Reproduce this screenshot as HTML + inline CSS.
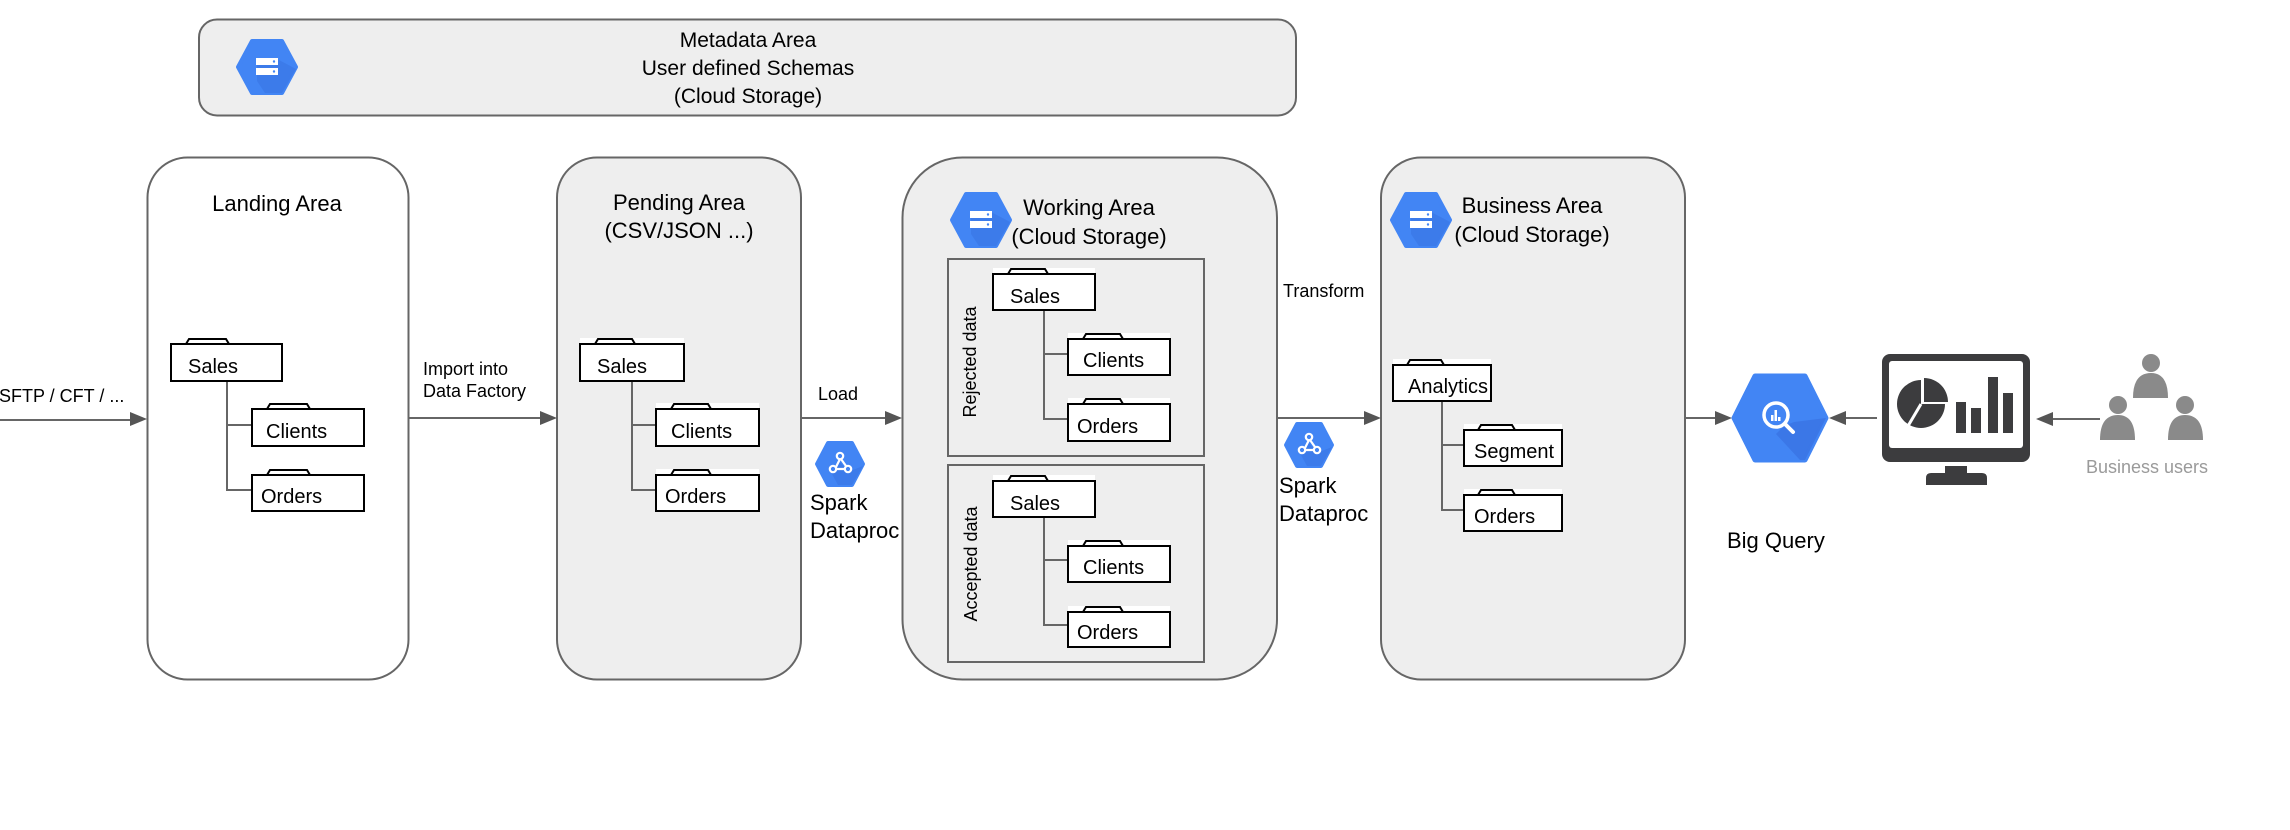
<!DOCTYPE html>
<html><head><meta charset="utf-8"><style>
html,body{margin:0;padding:0;background:#fff;}
svg{display:block;}
text{font-family:"Liberation Sans",Arial,sans-serif;fill:#000;}
</style></head><body>
<svg width="2290" height="830" viewBox="0 0 2290 830" xmlns="http://www.w3.org/2000/svg">
<defs>
  <g id="hexS">
    <polygon points="-29,0 -15,-26 15,-26 29,0 15,26 -15,26" fill="#4285f4" stroke="#4285f4" stroke-width="4" stroke-linejoin="round"/>
    <polygon points="-10,-8 10,-8 29,2 15,26 -2,26 -10,14" fill="#3b78e7" opacity="0.8"/>
    <rect x="-11" y="-9" width="22" height="7" fill="#fff"/>
    <rect x="-11" y="1" width="22" height="7" fill="#fff"/>
    <circle cx="7" cy="-5.5" r="1.2" fill="#4285f4"/>
    <circle cx="7" cy="4.5" r="1.2" fill="#4285f4"/>
  </g>
  <g id="hexP">
    <polygon points="-23,0 -12,-21 12,-21 23,0 12,21 -12,21" fill="#4285f4" stroke="#4285f4" stroke-width="4" stroke-linejoin="round"/>
    <polygon points="0,-2 8,8 23,2 12,21 -2,21 -8,10" fill="#3b78e7" opacity="0.8"/>
    <g fill="none" stroke="#fff" stroke-width="2.2">
      <circle cx="0" cy="-8" r="3.2"/><circle cx="-7" cy="5" r="3.2"/><circle cx="8" cy="5" r="3.2"/>
      <path d="M0,-5 L-4,3 M1,-5 L6,2 M-4,5 L5,5"/>
    </g>
  </g>
</defs>

<!-- Metadata -->
<rect x="199" y="19.5" width="1097" height="96" rx="18" fill="#eeeeee" stroke="#666" stroke-width="2"/>
<use href="#hexS" x="267" y="67"/>
<text x="748" y="47" font-size="21" text-anchor="middle">Metadata Area</text>
<text x="748" y="75" font-size="21" text-anchor="middle">User defined Schemas</text>
<text x="748" y="103" font-size="21" text-anchor="middle">(Cloud Storage)</text>

<!-- Boxes -->
<rect x="147.5" y="157.5" width="261" height="522" rx="40" fill="#fff" stroke="#666" stroke-width="2"/>
<rect x="557" y="157.5" width="244" height="522" rx="40" fill="#eeeeee" stroke="#666" stroke-width="2"/>
<rect x="902.5" y="157.5" width="374.5" height="522" rx="60" fill="#eeeeee" stroke="#666" stroke-width="2"/>
<rect x="1381" y="157.5" width="304" height="522" rx="40" fill="#eeeeee" stroke="#666" stroke-width="2"/>

<!-- Titles -->
<text x="277" y="211" font-size="22" text-anchor="middle">Landing Area</text>
<text x="679" y="210" font-size="22" text-anchor="middle">Pending Area</text>
<text x="679" y="238" font-size="22" text-anchor="middle">(CSV/JSON ...)</text>
<use href="#hexS" x="981" y="220"/>
<text x="1089" y="215" font-size="22" text-anchor="middle">Working Area</text>
<text x="1089" y="244" font-size="22" text-anchor="middle">(Cloud Storage)</text>
<use href="#hexS" x="1421" y="220"/>
<text x="1532" y="213" font-size="22" text-anchor="middle">Business Area</text>
<text x="1532" y="242" font-size="22" text-anchor="middle">(Cloud Storage)</text>

<!-- Working sub boxes -->
<rect x="948" y="259" width="256" height="197" fill="#eeeeee" stroke="#666" stroke-width="2"/>
<rect x="948" y="465" width="256" height="197" fill="#eeeeee" stroke="#666" stroke-width="2"/>
<text transform="translate(976,362) rotate(-90)" font-size="18" text-anchor="middle">Rejected data</text>
<text transform="translate(977,564) rotate(-90)" font-size="18" text-anchor="middle">Accepted data</text>

<!-- Tree lines -->
<g stroke="#666" stroke-width="2" fill="none">
  <path d="M227,381 V490 H252 M227,425 H252"/>
  <path d="M632,381 V490 H656 M632,425 H656"/>
  <path d="M1044,310 V419 H1068 M1044,354 H1068"/>
  <path d="M1044,517 V625 H1068 M1044,560 H1068"/>
  <path d="M1442,401 V510 H1464 M1442,445 H1464"/>
</g>

<!-- Folders -->
<g font-size="20">
<g transform="translate(171,344)"><rect x="0" y="-6" width="111" height="6" fill="#fff"/><path d="M15,0 L18,-5 H55 L58,0" fill="#fff" stroke="#000" stroke-width="2"/><rect x="0" y="0" width="111" height="37" fill="#fff" stroke="#000" stroke-width="2"/><text x="17" y="29">Sales</text></g>
<g transform="translate(252,409)"><rect x="0" y="-6" width="112" height="6" fill="#fff"/><path d="M15,0 L18,-5 H55 L58,0" fill="#fff" stroke="#000" stroke-width="2"/><rect x="0" y="0" width="112" height="37" fill="#fff" stroke="#000" stroke-width="2"/><text x="14" y="29">Clients</text></g>
<g transform="translate(252,475)"><rect x="0" y="-6" width="112" height="6" fill="#fff"/><path d="M15,0 L18,-5 H55 L58,0" fill="#fff" stroke="#000" stroke-width="2"/><rect x="0" y="0" width="112" height="36" fill="#fff" stroke="#000" stroke-width="2"/><text x="9" y="28">Orders</text></g>

<g transform="translate(580,344)"><rect x="0" y="-6" width="104" height="6" fill="#fff"/><path d="M15,0 L18,-5 H52 L55,0" fill="#fff" stroke="#000" stroke-width="2"/><rect x="0" y="0" width="104" height="37" fill="#fff" stroke="#000" stroke-width="2"/><text x="17" y="29">Sales</text></g>
<g transform="translate(656,409)"><rect x="0" y="-6" width="103" height="6" fill="#fff"/><path d="M15,0 L18,-5 H52 L55,0" fill="#fff" stroke="#000" stroke-width="2"/><rect x="0" y="0" width="103" height="37" fill="#fff" stroke="#000" stroke-width="2"/><text x="15" y="29">Clients</text></g>
<g transform="translate(656,475)"><rect x="0" y="-6" width="103" height="6" fill="#fff"/><path d="M15,0 L18,-5 H52 L55,0" fill="#fff" stroke="#000" stroke-width="2"/><rect x="0" y="0" width="103" height="36" fill="#fff" stroke="#000" stroke-width="2"/><text x="9" y="28">Orders</text></g>

<g transform="translate(993,274)"><rect x="0" y="-6" width="102" height="6" fill="#fff"/><path d="M15,0 L18,-5 H52 L55,0" fill="#fff" stroke="#000" stroke-width="2"/><rect x="0" y="0" width="102" height="36" fill="#fff" stroke="#000" stroke-width="2"/><text x="17" y="29">Sales</text></g>
<g transform="translate(1068,339)"><rect x="0" y="-6" width="102" height="6" fill="#fff"/><path d="M15,0 L18,-5 H52 L55,0" fill="#fff" stroke="#000" stroke-width="2"/><rect x="0" y="0" width="102" height="36" fill="#fff" stroke="#000" stroke-width="2"/><text x="15" y="28">Clients</text></g>
<g transform="translate(1068,404)"><rect x="0" y="-6" width="102" height="6" fill="#fff"/><path d="M15,0 L18,-5 H52 L55,0" fill="#fff" stroke="#000" stroke-width="2"/><rect x="0" y="0" width="102" height="37" fill="#fff" stroke="#000" stroke-width="2"/><text x="9" y="29">Orders</text></g>

<g transform="translate(993,481)"><rect x="0" y="-6" width="102" height="6" fill="#fff"/><path d="M15,0 L18,-5 H52 L55,0" fill="#fff" stroke="#000" stroke-width="2"/><rect x="0" y="0" width="102" height="36" fill="#fff" stroke="#000" stroke-width="2"/><text x="17" y="29">Sales</text></g>
<g transform="translate(1068,546)"><rect x="0" y="-6" width="102" height="6" fill="#fff"/><path d="M15,0 L18,-5 H52 L55,0" fill="#fff" stroke="#000" stroke-width="2"/><rect x="0" y="0" width="102" height="36" fill="#fff" stroke="#000" stroke-width="2"/><text x="15" y="28">Clients</text></g>
<g transform="translate(1068,612)"><rect x="0" y="-6" width="102" height="6" fill="#fff"/><path d="M15,0 L18,-5 H52 L55,0" fill="#fff" stroke="#000" stroke-width="2"/><rect x="0" y="0" width="102" height="35" fill="#fff" stroke="#000" stroke-width="2"/><text x="9" y="27">Orders</text></g>

<g transform="translate(1393,365)"><rect x="0" y="-6" width="98" height="6" fill="#fff"/><path d="M14,0 L17,-5 H48 L51,0" fill="#fff" stroke="#000" stroke-width="2"/><rect x="0" y="0" width="98" height="36" fill="#fff" stroke="#000" stroke-width="2"/><text x="15" y="28">Analytics</text></g>
<g transform="translate(1464,430)"><rect x="0" y="-6" width="98" height="6" fill="#fff"/><path d="M14,0 L17,-5 H48 L51,0" fill="#fff" stroke="#000" stroke-width="2"/><rect x="0" y="0" width="98" height="36" fill="#fff" stroke="#000" stroke-width="2"/><text x="10" y="28">Segment</text></g>
<g transform="translate(1464,495)"><rect x="0" y="-6" width="98" height="6" fill="#fff"/><path d="M14,0 L17,-5 H48 L51,0" fill="#fff" stroke="#000" stroke-width="2"/><rect x="0" y="0" width="98" height="36" fill="#fff" stroke="#000" stroke-width="2"/><text x="10" y="28">Orders</text></g>
</g>

<!-- Arrows -->
<g stroke="#666" stroke-width="2" fill="none">
  <path d="M0,420 H133"/>
  <path d="M409,418 H543"/>
  <path d="M801,418 H888"/>
  <path d="M1277,418 H1367"/>
  <path d="M1685,418 H1718"/>
  <path d="M1877,418 H1843"/>
  <path d="M2100,419 H2050"/>
</g>
<g fill="#555">
  <polygon points="147,419 130,412 130,426"/>
  <polygon points="557,418 540,411 540,425"/>
  <polygon points="902,418 885,411 885,425"/>
  <polygon points="1381,418 1364,411 1364,425"/>
  <polygon points="1732,418 1715,411 1715,425"/>
  <polygon points="1829,418 1846,411 1846,425"/>
  <polygon points="2036,419 2053,412 2053,426"/>
</g>

<!-- Arrow labels -->
<text x="-1" y="402" font-size="18">SFTP / CFT / ...</text>
<text x="423" y="375" font-size="18">Import  into</text>
<text x="423" y="397" font-size="18">Data Factory</text>
<text x="818" y="400" font-size="18">Load</text>
<text x="1283" y="297" font-size="18">Transform</text>

<use href="#hexP" x="840" y="464"/>
<text x="810" y="510" font-size="22">Spark</text>
<text x="810" y="538" font-size="22">Dataproc</text>
<use href="#hexP" x="1309" y="445"/>
<text x="1279" y="493" font-size="22">Spark</text>
<text x="1279" y="521" font-size="22">Dataproc</text>

<!-- Big Query -->
<g transform="translate(1780,418)">
  <polygon points="-46,0 -25,-42 25,-42 46,0 25,42 -25,42" fill="#4285f4" stroke="#4285f4" stroke-width="5" stroke-linejoin="round"/>
  <polygon points="4,8 14,4 46,0 25,42 20,42 -4,16" fill="#3367d6" opacity="0.45"/>
  <circle cx="-4" cy="-3" r="12" fill="#4285f4" stroke="#fff" stroke-width="3.5"/>
  <path d="M5,6 L13,14" stroke="#fff" stroke-width="4" stroke-linecap="round"/>
  <rect x="-9" y="-3" width="2.5" height="6" fill="#fff"/>
  <rect x="-5.5" y="-8" width="2.5" height="11" fill="#fff"/>
  <rect x="-2" y="-1" width="2.5" height="4" fill="#fff"/>
</g>
<text x="1727" y="548" font-size="22">Big Query</text>

<!-- Monitor -->
<rect x="1882" y="354" width="148" height="108" rx="8" fill="#3c3c3e"/>
<rect x="1889" y="361" width="134" height="87" rx="3" fill="#fff"/>
<rect x="1945" y="466" width="22" height="8" fill="#3c3c3e"/>
<path d="M1926,485 V478 Q1926,473 1931,473 H1982 Q1987,473 1987,478 V485 Z" fill="#3c3c3e"/>
<path d="M1921,380 A24,24 0 1 0 1945,404 L1921,404 Z" fill="#3c3c3e"/>
<path d="M1924,378 A24,24 0 0 1 1948,402 L1924,402 Z" fill="#3c3c3e"/>
<path d="M1921,404 L1908,426" stroke="#fff" stroke-width="3"/>
<rect x="1956" y="402" width="10" height="31" fill="#3c3c3e"/>
<rect x="1971" y="408" width="10" height="25" fill="#3c3c3e"/>
<rect x="1988" y="377" width="10" height="56" fill="#3c3c3e"/>
<rect x="2003" y="393" width="10" height="40" fill="#3c3c3e"/>

<!-- Users -->
<g fill="#8a8a8a">
  <circle cx="2151" cy="363" r="9"/>
  <path d="M2133,398 Q2133,373 2151,373 Q2168,373 2168,398 Z"/>
  <circle cx="2118" cy="405" r="9"/>
  <path d="M2100,440 Q2100,415 2118,415 Q2135,415 2135,440 Z"/>
  <circle cx="2185" cy="405" r="9"/>
  <path d="M2168,440 Q2168,415 2185,415 Q2203,415 2203,440 Z"/>
</g>
<text x="2147" y="473" font-size="18" text-anchor="middle" style="fill:#9a9a9a">Business users</text>
</svg>
</body></html>
